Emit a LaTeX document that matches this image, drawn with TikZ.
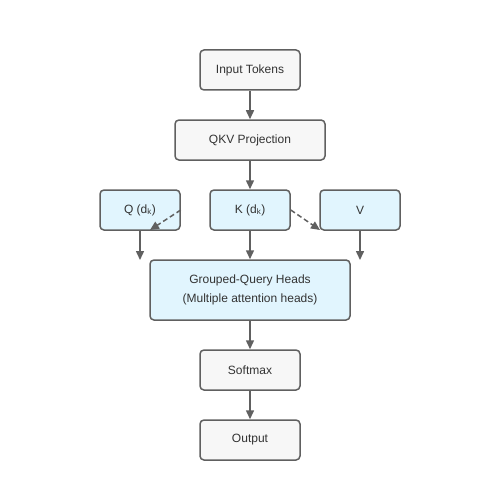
\documentclass[tikz,border=0pt]{standalone}
\usepackage{fontspec}
\setmainfont{Liberation Sans}
\usetikzlibrary{arrows.meta}
\definecolor{boxgray}{HTML}{F7F7F7}
\definecolor{boxblue}{HTML}{E1F5FE}
\definecolor{edgegray}{HTML}{606060}
\definecolor{txtgray}{HTML}{333333}
\begin{document}
\begin{tikzpicture}[x=1pt, y=-1pt,
    stage/.style={draw=edgegray, line width=1.5pt, rounded corners=4pt, fill=boxgray,
                  text=txtgray, font=\fontsize{12}{19}\selectfont, align=center,
                  minimum height=40pt, inner sep=0pt},
    part/.style={stage, fill=boxblue},
    flow/.style={draw=edgegray, line width=1.5pt, -{Triangle[length=9pt, width=8pt]}},
    share/.style={flow, dash pattern=on 5pt off 3pt}]
    \useasboundingbox (0,0) rectangle (500,500);
    % main column
    \node[stage, minimum width=100pt] (tokens) at (250,70) {Input Tokens};
    \node[stage, minimum width=150pt] (qkv) at (250,140) {QKV Projection};
    \node[part, minimum width=80pt] (q) at (140,210) {Q (d\textsubscript{k})};
    \node[part, minimum width=80pt] (k) at (250,210) {K (d\textsubscript{k})};
    \node[part, minimum width=80pt] (v) at (360,210) {V};
    \node[part, minimum width=200pt, minimum height=60pt] (heads) at (250,290)
        {Grouped-Query Heads\\(Multiple attention heads)};
    \node[stage, minimum width=100pt] (softmax) at (250,370) {Softmax};
    \node[stage, minimum width=100pt] (output) at (250,440) {Output};
    % free ends
    \coordinate (qend) at (140,260);
    \coordinate (vend) at (360,260);
    \coordinate (qshare) at (150,230);
    \coordinate (vshare) at (320,230);
    % connectors
    \draw[flow] (tokens) -- (qkv);
    \draw[flow] (qkv) -- (k);
    \draw[flow] (q) -- (qend);
    \draw[flow] (k) -- (heads);
    \draw[flow] (v) -- (vend);
    \draw[flow] (heads) -- (softmax);
    \draw[flow] (softmax) -- (output);
    \draw[share] (q.east) -- (qshare);
    \draw[share] (k.east) -- (vshare);
\end{tikzpicture}
\end{document}
